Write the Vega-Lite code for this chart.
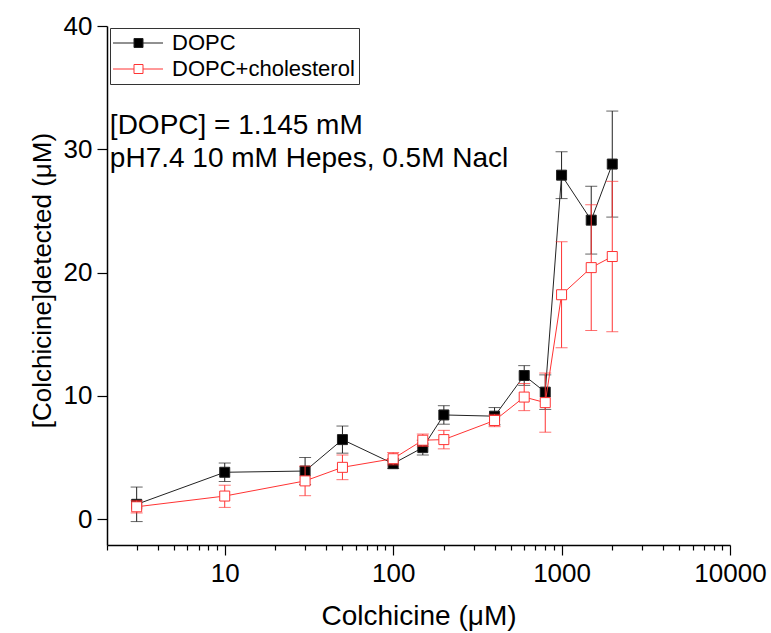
{
  "$schema": "https://vega.github.io/schema/vega-lite/v6.json",
  "autosize": {"type": "none"},
  "padding": {"left": 107, "top": 26, "right": 41, "bottom": 88},
  "width": 623,
  "height": 519,
  "background": "white",
  "config": {
    "view": {"stroke": null},
    "font": "Liberation Sans",
    "axis": {
      "grid": false,
      "domainColor": "black",
      "tickColor": "black",
      "labelColor": "black",
      "titleColor": "black",
      "labelFont": "Liberation Sans",
      "titleFont": "Liberation Sans",
      "labelFontSize": 26,
      "titleFontSize": 28,
      "titleFontWeight": "normal",
      "domainWidth": 1.5,
      "tickWidth": 1.2
    },
    "legend": {
      "labelFont": "Liberation Sans",
      "labelFontSize": 22,
      "labelColor": "black",
      "labelLimit": 0
    }
  },
  "datasets": {
    "pts": [
      {"c": 3, "series": "DOPC", "v": 1.2, "lo": -0.2, "hi": 2.6},
      {"c": 10, "series": "DOPC", "v": 3.8, "lo": 3.05, "hi": 4.55},
      {"c": 30, "series": "DOPC", "v": 3.9, "lo": 2.8, "hi": 5.0},
      {"c": 50, "series": "DOPC", "v": 6.45, "lo": 5.35, "hi": 7.55},
      {"c": 100, "series": "DOPC", "v": 4.5, "lo": 4.1, "hi": 4.9},
      {"c": 150, "series": "DOPC", "v": 5.8, "lo": 5.2, "hi": 6.4},
      {"c": 200, "series": "DOPC", "v": 8.45, "lo": 7.7, "hi": 9.2},
      {"c": 400, "series": "DOPC", "v": 8.35, "lo": 7.65, "hi": 9.05},
      {"c": 600, "series": "DOPC", "v": 11.65, "lo": 10.85, "hi": 12.45},
      {"c": 800, "series": "DOPC", "v": 10.3, "lo": 8.9, "hi": 11.7},
      {"c": 1000, "series": "DOPC", "v": 27.9, "lo": 26.0, "hi": 29.8},
      {"c": 1500, "series": "DOPC", "v": 24.25, "lo": 21.5, "hi": 27.0},
      {"c": 2000, "series": "DOPC", "v": 28.8, "lo": 24.5, "hi": 33.1},
      {"c": 3, "series": "DOPC+cholesterol", "v": 1.0, "lo": 0.5, "hi": 1.5},
      {"c": 10, "series": "DOPC+cholesterol", "v": 1.87, "lo": 0.95, "hi": 2.75},
      {"c": 30, "series": "DOPC+cholesterol", "v": 3.1, "lo": 1.9, "hi": 4.3},
      {"c": 50, "series": "DOPC+cholesterol", "v": 4.2, "lo": 3.2, "hi": 5.2},
      {"c": 100, "series": "DOPC+cholesterol", "v": 4.9, "lo": 4.4, "hi": 5.4},
      {"c": 150, "series": "DOPC+cholesterol", "v": 6.4, "lo": 5.9, "hi": 6.9},
      {"c": 200, "series": "DOPC+cholesterol", "v": 6.45, "lo": 5.7, "hi": 7.2},
      {"c": 400, "series": "DOPC+cholesterol", "v": 8.0, "lo": 7.5, "hi": 8.5},
      {"c": 600, "series": "DOPC+cholesterol", "v": 9.9, "lo": 8.8, "hi": 11.0},
      {"c": 800, "series": "DOPC+cholesterol", "v": 9.45, "lo": 7.05, "hi": 11.85},
      {"c": 1000, "series": "DOPC+cholesterol", "v": 18.2, "lo": 13.9, "hi": 22.5},
      {"c": 1500, "series": "DOPC+cholesterol", "v": 20.4, "lo": 15.3, "hi": 25.5},
      {"c": 2000, "series": "DOPC+cholesterol", "v": 21.3, "lo": 15.2, "hi": 27.4}
    ],
    "notes": [
      {"x": 2.08, "y": 31.9, "t": "[DOPC] = 1.145 mM"},
      {"x": 2.08, "y": 29.2, "t": "pH7.4 10 mM Hepes, 0.5M Nacl"}
    ]
  },
  "data": {"name": "pts"},
  "encoding": {
    "x": {
      "field": "c", "type": "quantitative",
      "scale": {"type": "log", "domain": [2, 10000], "nice": false},
      "axis": {
        "title": "Colchicine (μM)",
        "values": [2,3,4,5,6,7,8,9,10,20,30,40,50,60,70,80,90,100,200,300,400,500,600,700,800,900,1000,2000,3000,4000,5000,6000,7000,8000,9000,10000],
        "labelExpr": "indexof([10,100,1000,10000], datum.value) >= 0 ? format(datum.value, 'd') : ''",
        "tickSize": {"condition": {"test": "indexof([10,100,1000,10000], datum.value) >= 0", "value": 10}, "value": 5},
        "labelPadding": 5,
        "labelFlush": false,
        "labelOverlap": false,
        "titlePadding": 16
      }
    },
    "y": {
      "field": "v", "type": "quantitative",
      "scale": {"domain": [-2.1, 40], "nice": false, "zero": false},
      "axis": {
        "title": "[Colchicine]detected (μM)",
        "titleFontSize": 26,
        "titleY": 254,
        "values": [0, 10, 20, 30, 40],
        "tickSize": 10,
        "labelPadding": 5,
        "titlePadding": 8
      }
    }
  },
  "layer": [
    {
      "mark": {"type": "point", "shape": "M-1.2,0H0.9M1.8,0H3.8M0.9,-0.45H1.8V0.45H0.9Z", "size": 400, "opacity": 1, "strokeWidth": 1},
      "transform": [{"filter": "datum.c < 0"}],
      "encoding": {
        "fill": {
          "field": "series", "type": "nominal",
          "scale": {"domain": ["DOPC", "DOPC+cholesterol"], "range": ["#000000", "#ffffff"]},
          "legend": {
            "title": null,
            "orient": "none",
            "legendX": 3,
            "legendY": 2,
            "padding": 4,
            "strokeColor": "#333333",
            "fillColor": "white",
            "symbolType": "M-1.2,0H0.9M1.8,0H3.8M0.9,-0.45H1.8V0.45H0.9Z",
            "symbolSize": 400,
            "symbolStrokeWidth": 1,
            "labelOffset": 36,
            "rowPadding": 4
          }
        },
        "stroke": {
          "field": "series", "type": "nominal",
          "scale": {"domain": ["DOPC", "DOPC+cholesterol"], "range": ["#222222", "#ff3333"]},
          "legend": {
            "title": null,
            "orient": "none",
            "legendX": 3,
            "legendY": 2,
            "padding": 4,
            "strokeColor": "#333333",
            "fillColor": "white",
            "symbolType": "M-1.2,0H0.9M1.8,0H3.8M0.9,-0.45H1.8V0.45H0.9Z",
            "symbolSize": 400,
            "symbolStrokeWidth": 1,
            "labelOffset": 36,
            "rowPadding": 4
          }
        }
      }
    },
    {
      "transform": [{"filter": "datum.series == 'DOPC'"}],
      "layer": [
        {"mark": {"type": "line", "strokeWidth": 1}, "encoding": {"stroke": {"field": "series", "type": "nominal"}}},
        {"mark": {"type": "rule", "strokeWidth": 1}, "encoding": {"y": {"field": "lo", "type": "quantitative"}, "y2": {"field": "hi"}, "stroke": {"field": "series", "type": "nominal"}}},
        {"mark": {"type": "tick", "orient": "horizontal", "size": 12, "thickness": 1}, "encoding": {"y": {"field": "lo", "type": "quantitative"}, "color": {"field": "series", "type": "nominal", "legend": null, "scale": {"domain": ["DOPC", "DOPC+cholesterol"], "range": ["#222222", "#ff3333"]}}}},
        {"mark": {"type": "tick", "orient": "horizontal", "size": 12, "thickness": 1}, "encoding": {"y": {"field": "hi", "type": "quantitative"}, "color": {"field": "series", "type": "nominal", "legend": null}}},
        {"mark": {"type": "point", "shape": "square", "size": 100, "strokeWidth": 1, "opacity": 1}, "encoding": {"fill": {"field": "series", "type": "nominal"}, "stroke": {"field": "series", "type": "nominal"}}}
      ]
    },
    {
      "transform": [{"filter": "datum.series == 'DOPC+cholesterol'"}],
      "layer": [
        {"mark": {"type": "line", "strokeWidth": 1}, "encoding": {"stroke": {"field": "series", "type": "nominal"}}},
        {"mark": {"type": "rule", "strokeWidth": 1}, "encoding": {"y": {"field": "lo", "type": "quantitative"}, "y2": {"field": "hi"}, "stroke": {"field": "series", "type": "nominal"}}},
        {"mark": {"type": "tick", "orient": "horizontal", "size": 12, "thickness": 1}, "encoding": {"y": {"field": "lo", "type": "quantitative"}, "color": {"field": "series", "type": "nominal", "legend": null}}},
        {"mark": {"type": "tick", "orient": "horizontal", "size": 12, "thickness": 1}, "encoding": {"y": {"field": "hi", "type": "quantitative"}, "color": {"field": "series", "type": "nominal", "legend": null}}},
        {"mark": {"type": "point", "shape": "square", "size": 100, "strokeWidth": 1, "opacity": 1}, "encoding": {"fill": {"field": "series", "type": "nominal"}, "stroke": {"field": "series", "type": "nominal"}}}
      ]
    },
    {
      "data": {"name": "notes"},
      "mark": {"type": "text", "align": "left", "baseline": "middle", "fontSize": 28, "font": "Liberation Sans", "color": "black"},
      "encoding": {
        "x": {"field": "x", "type": "quantitative"},
        "y": {"field": "y", "type": "quantitative"},
        "text": {"field": "t"}
      }
    }
  ]
}
